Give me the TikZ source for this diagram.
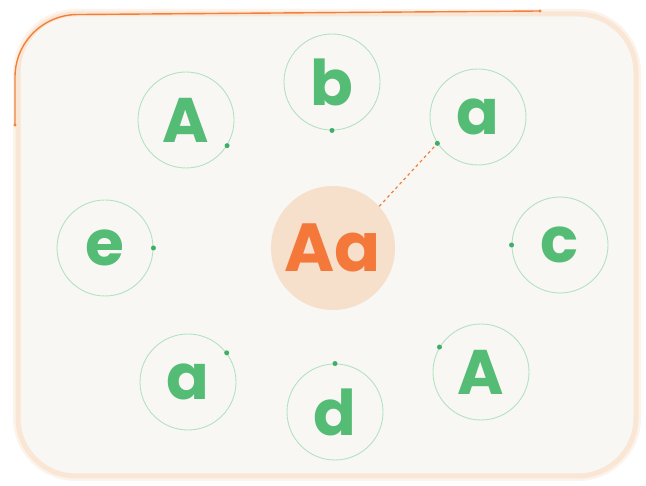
\documentclass[tikz,border=0pt]{standalone}
\usepackage{fontspec}
\setmainfont{Poppins}
\definecolor{frame}{HTML}{FAE6D4}
\definecolor{inner}{HTML}{F8F7F4}
\definecolor{orangeline}{HTML}{F0813C}
\definecolor{ring}{HTML}{B3E2C2}
\definecolor{letter}{HTML}{55BC76}
\definecolor{dotc}{HTML}{3DAF66}
\definecolor{core}{HTML}{F6DFCB}
\definecolor{coretext}{HTML}{F4783A}
\tikzset{
  ring/.style={circle,draw=ring,line width=0.9pt,minimum size=96pt,inner sep=0pt,
    text=letter,font=\fontsize{63}{63}\selectfont\bfseries},
  dotn/.style={circle,fill=dotc,minimum size=5pt,inner sep=0pt},
  corenode/.style={circle,fill=core,minimum size=124pt,inner sep=0pt,
    text=coretext,font=\fontsize{68}{68}\selectfont\bfseries},
  link/.style={orangeline,line width=1.2pt,dash pattern=on 3pt off 3pt}
}
\begin{document}
\begin{tikzpicture}[x=1pt,y=-1pt]
\useasboundingbox (0,0) rectangle (646,486);
\fill[white] (0,0) rectangle (646,486);
\draw[frame!50,line width=10pt,rounded corners=58pt] (18,14) rectangle (636,476);
\draw[frame,line width=5pt,fill=inner,rounded corners=58pt] (18,14) rectangle (636,476);
\coordinate (ls) at (15,125);
\coordinate (le) at (540,11);
\draw[orangeline,line width=1.4pt,rounded corners=62pt] (ls) -- (15,15) -- (le);
\fill[orangeline] (ls) circle (1.6pt);
\fill[orangeline] (le) circle (1.6pt);

\node[corenode] (core) at (333,248) {Aa};

\node[ring] (A1) at (186,120) {A};
\node[ring] (b) at (332,82) {b};
\node[ring] (a1) at (478,117) {a};
\node[ring] (e) at (105,248) {e};
\node[ring] (c) at (560,245) {c};
\node[ring] (a2) at (188,382) {a};
\node[ring] (d) at (335,412) {d};
\node[ring] (A2) at (481,372) {A};

\node[dotn] (dA1) at (A1.-32) {};
\node[dotn] (db) at (b.-90) {};
\node[dotn] (da1) at (a1.213) {};
\node[dotn] (de) at (e.0) {};
\node[dotn] (dc) at (c.180) {};
\node[dotn] (da2) at (a2.37) {};
\node[dotn] (dd) at (d.90) {};
\node[dotn] (dA2) at (A2.149) {};

\draw[link] (core.42) -- (da1);
\end{tikzpicture}
\end{document}
